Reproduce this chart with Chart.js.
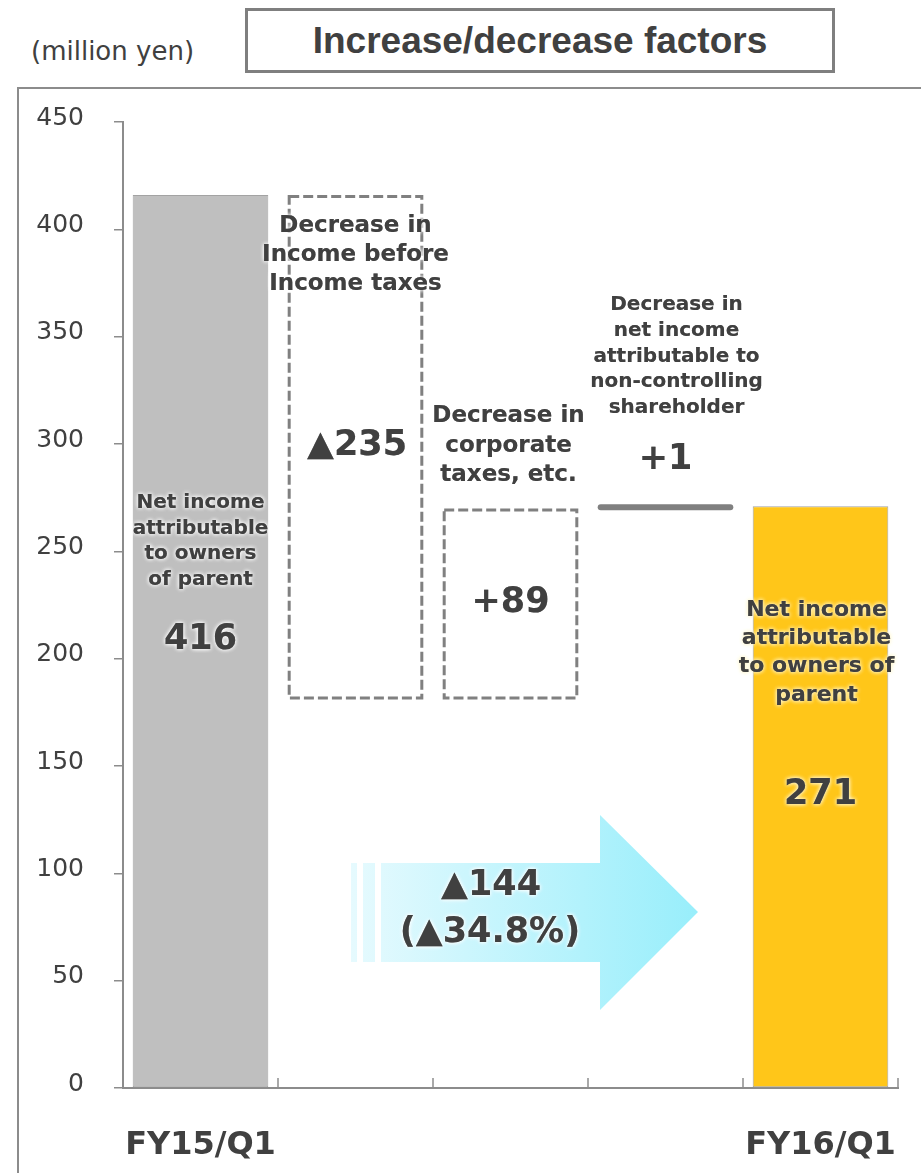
<!DOCTYPE html>
<html>
<head>
<meta charset="utf-8">
<script src="https://cdn.jsdelivr.net/npm/chart.js@4/dist/chart.umd.min.js"></script>
<style>
  html, body { margin: 0; padding: 0; background: #ffffff; }
  #wrap { position: relative; width: 921px; height: 1173px; overflow: hidden; }
  #frame { position: absolute; left: 17px; top: 87px; width: 940px; height: 1120px;
           border: 2px solid #8c8c8c; box-sizing: border-box; }
  #unit { position: absolute; left: 31px; top: 36px; font: 26px "DejaVu Sans", sans-serif;
          color: #404040; white-space: nowrap; }
  #title { position: absolute; left: 245px; top: 8px; width: 590px; height: 65px;
           border: 3px solid #7f7f7f; box-sizing: border-box; display: flex;
           align-items: center; justify-content: center;
           font: bold 37px "Liberation Sans", Arial, sans-serif; color: #404040; }
  canvas { position: absolute; left: 0; top: 0; }
</style>
</head>
<body>
<div id="wrap">
  <div id="frame"></div>
  <div id="unit">(million yen)</div>
  <div id="title">Increase/decrease factors</div>
  <canvas id="chart" width="921" height="1173"></canvas>
</div>
<script>
// ---- data ----
const tickLabels = ['FY15/Q1', '', '', '', 'FY16/Q1'];
const openingTotal = 416;            // FY15/Q1 net income
const factorChanges = [-235, 89, 1]; // bridge factors
const closingTotal = 271;            // FY16/Q1 net income
const barCaptions = [
  ['Net income', 'attributable', 'to owners', 'of parent'],
  ['Decrease in', 'Income before', 'Income taxes'],
  ['Decrease in', 'corporate', 'taxes, etc.'],
  ['Decrease in', 'net income', 'attributable to', 'non-controlling', 'shareholder'],
  ['Net income', 'attributable', 'to owners of', 'parent']
];
const arrowCaption = ['▲144', '(▲34.8%)'];

// floating ranges for the bridge
function buildRanges() {
  const ranges = [[0, openingTotal]];
  let run = openingTotal;
  factorChanges.forEach(c => { ranges.push([run, run + c]); run += c; });
  ranges.push([0, closingTotal]);
  return ranges;
}
const valueLabels = [String(openingTotal)]
  .concat(factorChanges.map(c => (c < 0 ? '▲' : '+') + Math.abs(c)))
  .concat([String(closingTotal)]);

// text placement (first caption line / value label in axis units)
const captionLayout = [
  { y: 272.5, step: 25.5, size: 20, dx: 0,  valueY: 208.7, glow: '#ffffff' },
  { y: 401.5, step: 29,   size: 23, dx: 0,  valueY: 299.1, glow: '#ffffff' },
  { y: 313,   step: 29.5, size: 23, dx: -2, valueY: 225.9, glow: '#ffffff' },
  { y: 364.7, step: 25.7, size: 20, dx: 11, valueY: 292.5, glow: '#ffffff' },
  { y: 222.7, step: 28.3, size: 22, dx: -4, valueY: 136.5, glow: '#fff6cc' }
];

const TEXT = '#404040';
const LINE = '#808080';

function glowText(ctx, text, x, y, glow) {
  ctx.save();
  ctx.shadowColor = glow;
  ctx.shadowBlur = 4;
  ctx.fillStyle = TEXT;
  ctx.fillText(text, x, y);
  ctx.fillText(text, x, y);
  ctx.restore();
}

const bridgePlugin = {
  id: 'bridgeDecor',
  afterDatasetsDraw(chart) {
    const ctx = chart.ctx;
    const meta = chart.getDatasetMeta(0);
    const ys = chart.scales.y;
    const xs = chart.scales.x;
    const area = chart.chartArea;

    // inner tick marks on the category axis
    ctx.save();
    ctx.strokeStyle = '#8c8c8c';
    ctx.lineWidth = 1.5;
    for (let i = 1; i <= tickLabels.length; i++) {
      const x = i < tickLabels.length
        ? (xs.getPixelForValue(i - 1) + xs.getPixelForValue(i)) / 2
        : area.right;
      ctx.beginPath();
      ctx.moveTo(x, area.bottom);
      ctx.lineTo(x, area.bottom - 10);
      ctx.stroke();
    }
    ctx.restore();

    // factor bars: dashed boxes and the thin segment
    meta.data.forEach((bar, i) => {
      if (i === 0 || i === tickLabels.length - 1) return;
      const p = bar.getProps(['x', 'y', 'base', 'width'], true);
      const left = p.x - p.width / 2, right = p.x + p.width / 2;
      const top = Math.min(p.y, p.base), bottom = Math.max(p.y, p.base);
      ctx.save();
      ctx.strokeStyle = LINE;
      if (bottom - top > 10) {
        ctx.lineWidth = 3;
        ctx.setLineDash([10, 4]);
        ctx.strokeRect(left + 1.5, top + 1.5, p.width - 3, bottom - top - 3);
      } else {
        ctx.lineWidth = 6;
        ctx.lineCap = 'round';
        const mid = (top + bottom) / 2;
        ctx.beginPath();
        ctx.moveTo(left + 3, mid);
        ctx.lineTo(right - 3, mid);
        ctx.stroke();
      }
      ctx.restore();
    });

    // change arrow between the two totals
    ctx.save();
    const grad = ctx.createLinearGradient(351, 0, 698, 0);
    grad.addColorStop(0, '#e6fafe');
    grad.addColorStop(1, '#98eefb');
    ctx.fillStyle = grad;
    ctx.fillRect(351, 863, 6, 99);
    ctx.fillRect(363, 863, 12, 99);
    ctx.beginPath();
    ctx.moveTo(381, 863);
    ctx.lineTo(600, 863);
    ctx.lineTo(600, 815);
    ctx.lineTo(698, 912);
    ctx.lineTo(600, 1010);
    ctx.lineTo(600, 962);
    ctx.lineTo(381, 962);
    ctx.closePath();
    ctx.fill();
    ctx.restore();

    ctx.save();
    ctx.textAlign = 'center';
    ctx.textBaseline = 'middle';
    ctx.font = 'bold 35px "DejaVu Sans"';
    glowText(ctx, arrowCaption[0], 491, 886, '#ffffff');
    glowText(ctx, arrowCaption[1], 490, 933, '#ffffff');
    ctx.restore();

    // captions and values
    meta.data.forEach((bar, i) => {
      const L = captionLayout[i];
      const cx = bar.x;
      ctx.save();
      ctx.textAlign = 'center';
      ctx.textBaseline = 'middle';
      ctx.font = 'bold ' + L.size + 'px "DejaVu Sans"';
      const y0 = ys.getPixelForValue(L.y);
      barCaptions[i].forEach((line, k) => {
        glowText(ctx, line, cx + L.dx, y0 + k * L.step, L.glow);
      });
      ctx.font = 'bold 35px "DejaVu Sans"';
      glowText(ctx, valueLabels[i], cx + (i === 1 ? 1.5 : 0), ys.getPixelForValue(L.valueY), L.glow);
      ctx.restore();
    });
  }
};

new Chart(document.getElementById('chart'), {
  type: 'bar',
  data: {
    labels: tickLabels,
    datasets: [{
      data: buildRanges(),
      backgroundColor: ['#bfbfbf', 'rgba(0,0,0,0)', 'rgba(0,0,0,0)', 'rgba(0,0,0,0)', '#ffc619'],
      borderColor: ['#a3a3a3', 'rgba(0,0,0,0)', 'rgba(0,0,0,0)', 'rgba(0,0,0,0)', '#a3a3a3'],
      borderWidth: 1,
      borderSkipped: false,
      categoryPercentage: 1,
      barPercentage: 0.875
    }]
  },
  options: {
    responsive: false,
    animation: false,
    layout: { padding: { left: 0, top: 122, right: 23, bottom: 0 } },
    plugins: { legend: { display: false }, tooltip: { enabled: false } },
    scales: {
      x: {
        grid: { display: false },
        border: { display: true, color: '#8c8c8c', width: 2 },
        ticks: {
          color: TEXT,
          padding: 30,
          maxRotation: 0,
          autoSkip: false,
          font: { family: 'DejaVu Sans', size: 32, weight: 'bold' }
        },
        afterFit(scale) {
          scale.height = 85;
          scale.paddingLeft = 0;
          scale.paddingRight = 0;
        }
      },
      y: {
        min: 0,
        max: 450,
        grid: { drawOnChartArea: false, tickLength: 9, color: '#8c8c8c', lineWidth: 1.5 },
        border: { display: true, color: '#8c8c8c', width: 2 },
        ticks: {
          stepSize: 50,
          color: TEXT,
          padding: 30,
          labelOffset: -4,
          font: { family: 'DejaVu Sans', size: 25 }
        },
        afterFit(scale) { scale.width = 123; }
      }
    }
  },
  plugins: [bridgePlugin]
});
</script>
</body>
</html>
